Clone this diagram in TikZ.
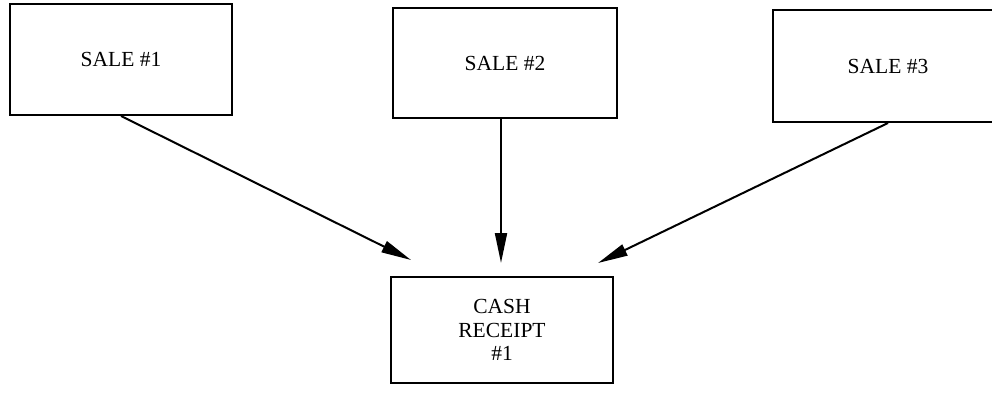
\documentclass[tikz,border=0pt]{standalone}
\usepackage{fontspec}
\setmainfont{Liberation Serif}
\usetikzlibrary{arrows.meta}

\tikzset{every picture/.style={line width=2pt}}
\tikzset{
salebox/.style={draw, minimum width=222pt, minimum height=111pt, inner sep=0pt, align=center, font=\fontsize{21.5}{23.5}\selectfont},
flowarrow/.style={-{Triangle[length=30pt,width=12pt]}}
}

\begin{document}
\begin{tikzpicture}[x=1pt,y=1pt,yscale=-1,xscale=1]
\useasboundingbox (0,0) rectangle (992,394);
\clip (0,0) rectangle (992,394);

%Shape: Rectangle [sale 1]
\node [salebox] (sale1) at (121,59.5) {SALE \#1};
%Shape: Rectangle [sale 2]
\node [salebox, minimum width=224pt, minimum height=110pt] (sale2) at (505,63) {SALE \#2};
%Shape: Rectangle [sale 3] - runs off the right edge
\node [salebox, minimum width=230pt, minimum height=112pt] (sale3) at (888,66) {SALE \#3};
%Shape: Rectangle [cash receipt]
\node [salebox, minimum width=222pt, minimum height=106pt] (cash) at (502,330) {CASH\\RECEIPT\\\#1};

%arrow tips, left short of the receipt box
\coordinate (tip1) at (411,260);
\coordinate (tip2) at (501,263);
\coordinate (tip3) at (598,263);

%Straight Lines
\draw [flowarrow] (sale1.south) -- (tip1);
\draw [flowarrow] (sale2.south -| tip2) -- (tip2);
\draw [flowarrow] (sale3.south) -- (tip3);

\end{tikzpicture}
\end{document}
